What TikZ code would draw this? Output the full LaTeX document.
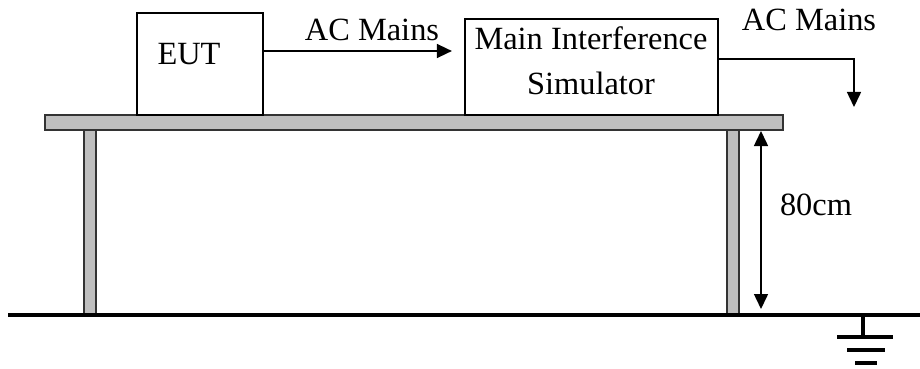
\documentclass[tikz,border=0pt]{standalone}
\usepackage{fontspec}
\setmainfont{Liberation Serif}
\usetikzlibrary{arrows.meta}
\begin{document}
\begin{tikzpicture}[x=0.5pt,y=-0.5pt,
  every node/.style={font=\fontsize{16.2}{19.5}\selectfont, inner sep=0pt},
  box/.style={draw, line width=1.1pt, fill=white},
  part/.style={draw=black!80, line width=0.8pt, fill=black!25},
  wire/.style={line width=0.75pt},
  tip/.style={-{Triangle[length=7.5pt,width=7pt]}},
  dtip/.style={{Triangle[length=7.5pt,width=7pt]}-{Triangle[length=7.5pt,width=7pt]}},
  lbl/.style={text=black}]
\useasboundingbox (0,0) rectangle (920,369);
% table
\draw[part] (45,115) rectangle (783,130);
\draw[part] (84,130) rectangle (96,315);
\draw[part] (727,130) rectangle (739,315);
% ground line
\draw[line width=1.6pt] (8,315) -- (920,315);
% boxes
\node[box, minimum width=63pt, minimum height=51pt] (eut) at (200,64) {};
\node[lbl] (euttext) at (189,54) {EUT};
\node[box, minimum width=126.5pt, minimum height=48pt] (mis) at (591.5,67) {};
\node[lbl] (mis1) at (591,38) {Main Interference};
\node[lbl] (mis2) at (591,83) {Simulator};
% AC mains arrows
\node[lbl] (ac1) at (372,30) {AC Mains};
\draw[wire, tip, shorten >=6pt] (eut.east |- 0,51) -- (mis.west |- 0,51);
\node[lbl] (ac2) at (809,20) {AC Mains};
\coordinate (out) at (854,107);
\draw[wire, tip] (mis.east |- 0,59) -| (out);
% 80 cm dimension
\coordinate (dtop) at (761,131);
\coordinate (dbot) at (761,309);
\draw[wire, dtip] (dtop) -- (dbot);
\node[lbl] (h) at (816,205) {80cm};
% earth symbol
\coordinate (g0) at (863,315);
\coordinate (g1) at (863,337);
\draw[line width=2pt] (g0) -- (g1);
\draw[line width=2pt] (837,337) -- (893,337);
\draw[line width=2pt] (847,350) -- (885,350);
\draw[line width=2pt] (855,363) -- (877,363);
\end{tikzpicture}
\end{document}
